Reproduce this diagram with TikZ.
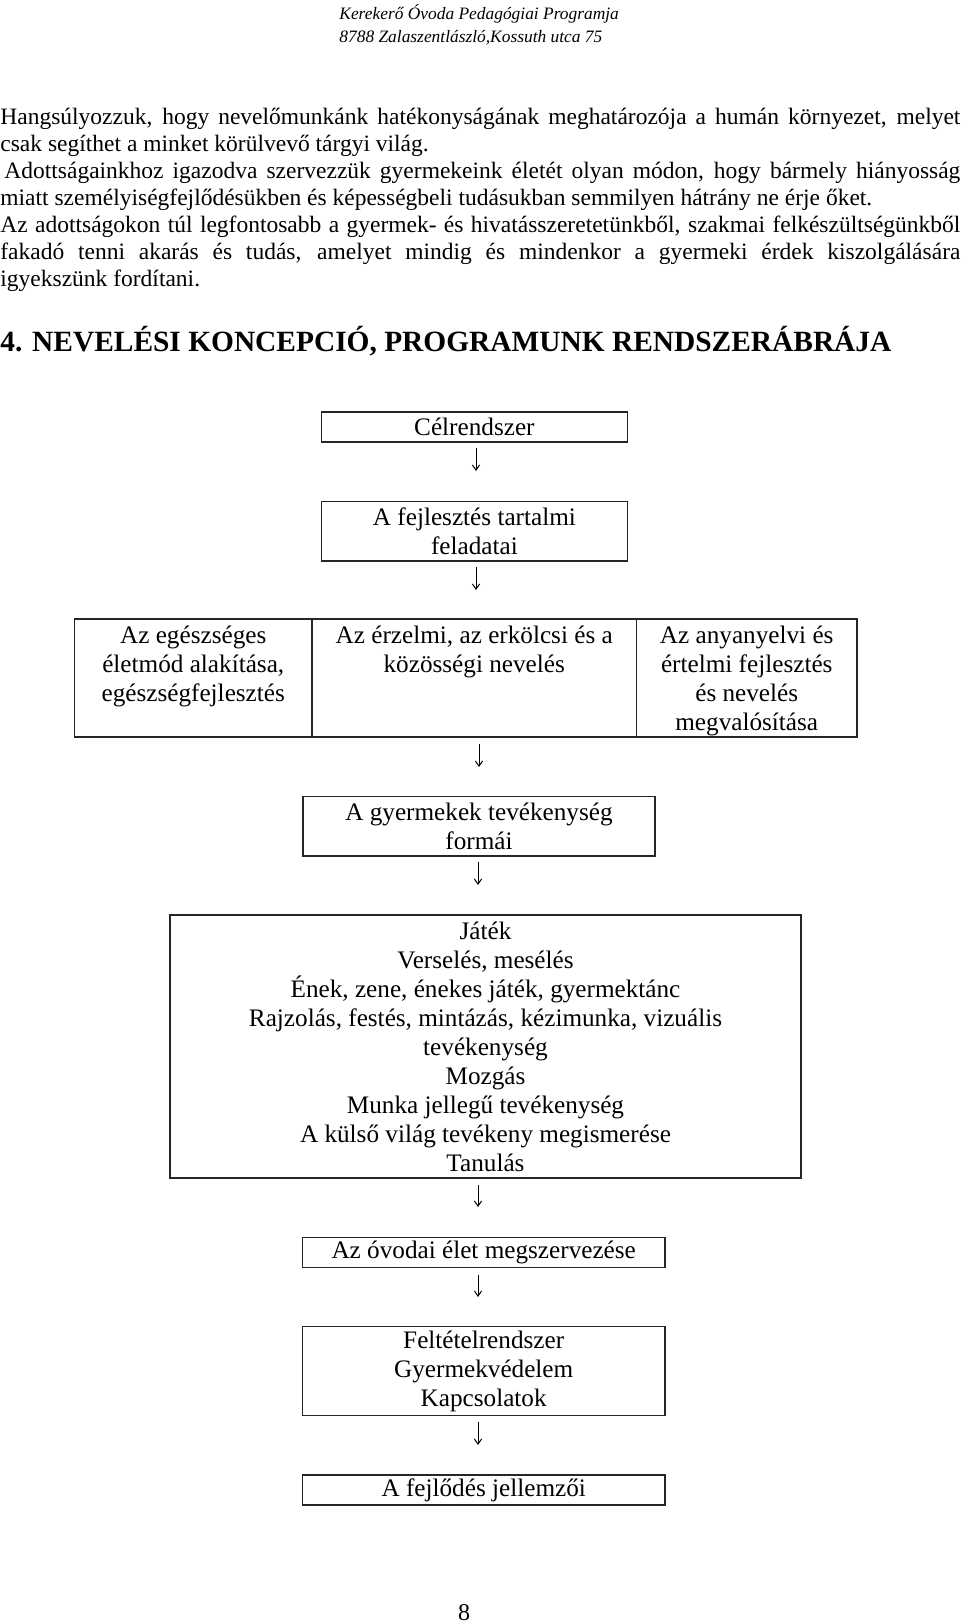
\documentclass[tikz,border=0pt]{standalone}
\usepackage{fontspec}
\setmainfont{Liberation Serif}
\usetikzlibrary{arrows.meta}
\begin{document}
\begin{tikzpicture}[x=0.5pt,y=-0.5pt,
  boxstyle/.style={draw=black!85, line width=0.7pt, inner sep=0pt, rectangle,
    font=\fontsize{12.6pt}{14.5pt}\selectfont, align=center},
  celltext/.style={font=\fontsize{12.6pt}{14.5pt}\selectfont, align=center, inner sep=0pt, anchor=north},
  bodyline/.style={font=\fontsize{11.75pt}{13.45pt}\selectfont, inner sep=0pt, anchor=base west},
  headline/.style={font=\fontsize{8.7pt}{10pt}\selectfont\itshape, inner sep=0pt, anchor=base west},
  downarrow/.style={line width=0.5pt, -{Straight Barb[length=2.6pt,width=3.6pt]}},
]
\useasboundingbox (0,0) rectangle (960,1624);

% running header
\node[headline] (hdr1) at (339,19) {Kerekerő Óvoda Pedagógiai Programja};
\node[headline] (hdr2) at (339,42) {8788 Zalaszentlászló,Kossuth utca 75};

% body text
\node[bodyline] (l1) at (0,124) {\makebox[480pt][s]{Hangsúlyozzuk, hogy nevelőmunkánk hatékonyságának meghatározója a humán környezet, melyet}};
\node[bodyline] (l2) at (0,151) {csak segíthet a minket körülvevő tárgyi világ.};
\node[bodyline] (l3) at (0,178) {\makebox[480pt][s]{\hspace*{2pt}Adottságainkhoz igazodva szervezzük gyermekeink életét olyan módon, hogy bármely hiányosság}};
\node[bodyline] (l4) at (0,205) {miatt személyiségfejlődésükben és képességbeli tudásukban semmilyen hátrány ne érje őket.};
\node[bodyline] (l5) at (0,232) {\makebox[480pt][s]{Az adottságokon túl legfontosabb a gyermek- és hivatásszeretetünkből, szakmai felkészültségünkből}};
\node[bodyline] (l6) at (0,259) {\makebox[480pt][s]{fakadó tenni akarás és tudás, amelyet mindig és mindenkor a gyermeki érdek kiszolgálására}};
\node[bodyline] (l7) at (0,286) {igyekszünk fordítani.};

% heading
\node[inner sep=0pt, anchor=base west, font=\fontsize{14.7pt}{16pt}\selectfont\bfseries] (head) at (0,351) {4. NEVELÉSI KONCEPCIÓ, PROGRAMUNK RENDSZERÁBRÁJA};

% boxes
\node[boxstyle, minimum width=152.9pt, minimum height=15pt] (b1) at (474.4,427) {Célrendszer};
\node[boxstyle, minimum width=152.9pt, minimum height=29.7pt] (b2) at (474.4,531.4) {A fejlesztés tartalmi\\feladatai};

\node[boxstyle, minimum width=118.75pt, minimum height=59pt] (c1) at (193.25,678) {};
\node[boxstyle, minimum width=162.25pt, minimum height=59pt] (c2) at (474.25,678) {};
\node[boxstyle, minimum width=110.25pt, minimum height=59pt] (c3) at (746.75,678) {};
\node[celltext] (t1) at (193.25,622.5) {\strut Az egészséges\\\strut életmód alakítása,\\\strut egészségfejlesztés};
\node[celltext] (t2) at (474.25,622.5) {\strut Az érzelmi, az erkölcsi és a\\\strut közösségi nevelés};
\node[celltext] (t3) at (746.75,622.5) {\strut Az anyanyelvi és\\\strut értelmi fejlesztés\\\strut és nevelés\\\strut megvalósítása};

\node[boxstyle, minimum width=176pt, minimum height=29.75pt] (b4) at (479,826.25) {A gyermekek tevékenység\\formái};
\node[boxstyle, minimum width=315.5pt, minimum height=131.5pt] (b5) at (485.5,1046.5) {Játék\\Verselés, mesélés\\Ének, zene, énekes játék, gyermektánc\\Rajzolás, festés, mintázás, kézimunka, vizuális\\tevékenység\\Mozgás\\Munka jellegű tevékenység\\A külső világ tevékeny megismerése\\Tanulás};
\node[boxstyle, minimum width=181.3pt, minimum height=15pt] (b6) at (483.7,1252.5) {Az óvodai élet megszervezése};
\node[boxstyle, minimum width=181.3pt, minimum height=44.5pt] (b7) at (483.7,1371.2) {Feltételrendszer\\Gyermekvédelem\\Kapcsolatok};
\node[boxstyle, minimum width=181.3pt, minimum height=15pt] (b8) at (483.7,1490) {A fejlődés jellemzői};

% arrows
\coordinate (a1s) at (476,448);  \coordinate (a1e) at (476,471);
\coordinate (a2s) at (476,567);  \coordinate (a2e) at (476,590);
\coordinate (a3s) at (479,744);  \coordinate (a3e) at (479,767);
\coordinate (a4s) at (478,862);  \coordinate (a4e) at (478,885);
\coordinate (a5s) at (478,1185); \coordinate (a5e) at (478,1207);
\coordinate (a6s) at (478,1275); \coordinate (a6e) at (478,1297);
\coordinate (a7s) at (478,1422); \coordinate (a7e) at (478,1445);
\draw[downarrow] (a1s) -- (a1e);
\draw[downarrow] (a2s) -- (a2e);
\draw[downarrow] (a3s) -- (a3e);
\draw[downarrow] (a4s) -- (a4e);
\draw[downarrow] (a5s) -- (a5e);
\draw[downarrow] (a6s) -- (a6e);
\draw[downarrow] (a7s) -- (a7e);

% page number
\node[inner sep=0pt, anchor=base, font=\fontsize{12pt}{14pt}\selectfont] (pg) at (464,1620) {8};
\end{tikzpicture}
\end{document}
